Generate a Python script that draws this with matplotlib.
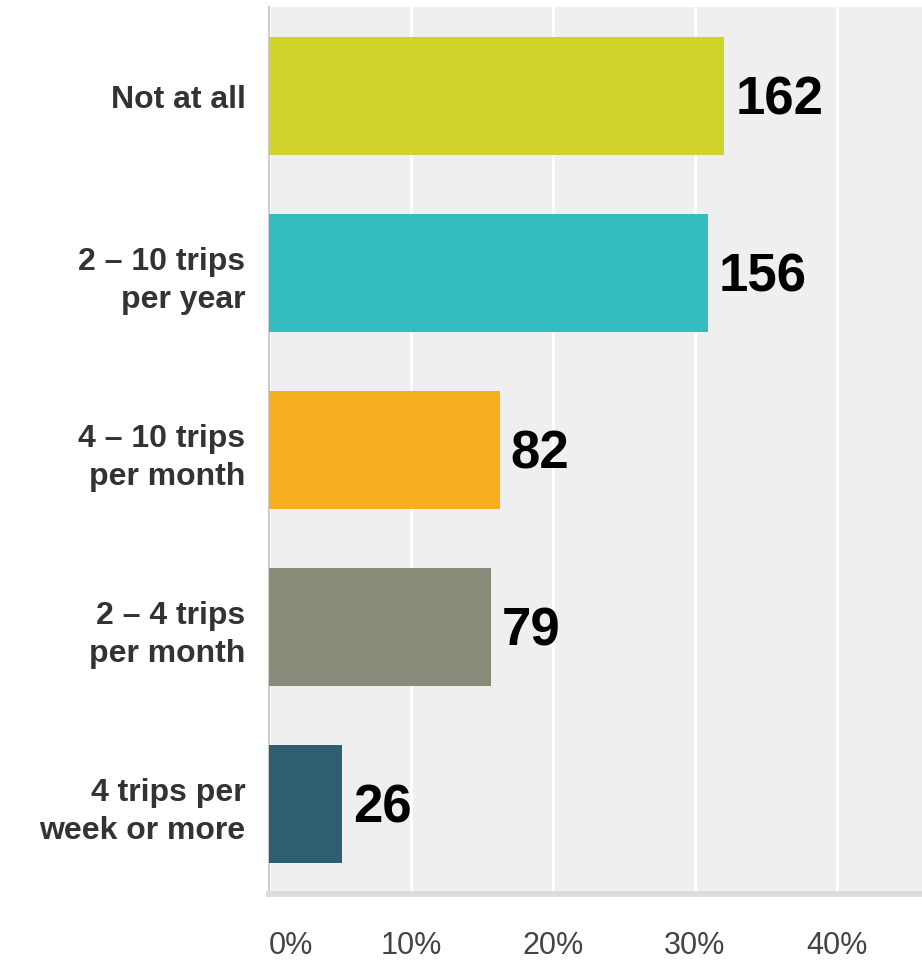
import numpy as np
import matplotlib
matplotlib.use("Agg")
import matplotlib.pyplot as plt

plt.rcParams['font.family'] = ['Liberation Sans', 'DejaVu Sans']

# Survey answers (counts), top to bottom
categories = ['Not at all', '2 \u2013 10 trips\nper year', '4 \u2013 10 trips\nper month',
              '2 \u2013 4 trips\nper month', '4 trips per\nweek or more']
counts = [162, 156, 82, 79, 26]
colors = ['#D0D42A', '#33BDBF', '#F7AF1F', '#8A8A79', '#2F5F6E']

total = sum(counts)
pct = [c / total * 100 for c in counts]

fig = plt.figure(figsize=(9.22, 9.60), dpi=100)
ax = fig.add_axes([0.2918, 0.0719, 0.7082, 0.9208])
ax.set_facecolor('#EFEFEF')

y = np.arange(len(categories))
ax.barh(y, pct, height=0.667, color=colors, zorder=3)

# value labels
for yi, p, c in zip(y, pct, counts):
    ax.annotate(str(c), xy=(p, yi), xytext=(8, -3), textcoords='offset points',
                ha='left', va='center', fontsize=38, fontweight='bold', color='black')

ax.set_xlim(0, 46)
ax.set_ylim(4.49, -0.503)

# grid
ax.set_xticks([0, 10, 20, 30, 40])
ax.set_xticklabels(['0%', '10%', '20%', '30%', '40%'])
ax.grid(axis='x', color='white', linewidth=2.2, zorder=1)
ax.set_axisbelow(True)

ax.set_yticks(y)
ax.set_yticklabels(categories, fontsize=23, fontweight='bold', color='#333333')
for lab in ax.get_yticklabels():
    lab.set_linespacing(1.35)
    lab.set_multialignment('right')

ax.tick_params(axis='y', length=0, pad=17)
ax.tick_params(axis='x', length=0, pad=27, labelsize=22, labelcolor='#444444')

for s in ['top', 'right']:
    ax.spines[s].set_visible(False)
ax.spines['left'].set_color('#CCCCCC')
ax.spines['left'].set_linewidth(1.5)
ax.spines['bottom'].set_color('#DDDDDD')
ax.spines['bottom'].set_linewidth(4.3)
ax.spines['bottom'].set_position(('outward', 2))

fig.canvas.draw()
ax.xaxis.get_major_ticks()[0].label1.set_horizontalalignment('left')

fig.savefig('out.png', dpi=100)
